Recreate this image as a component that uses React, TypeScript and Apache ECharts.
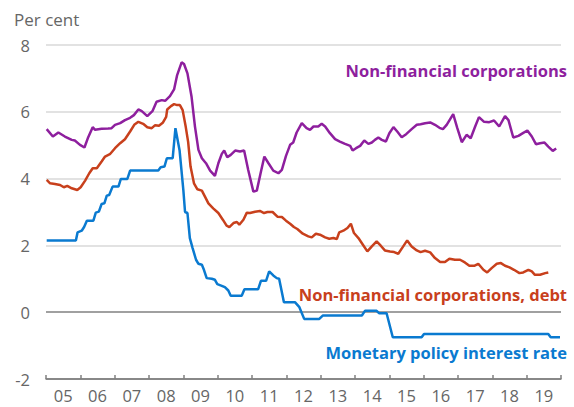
import React, { useEffect, useRef } from "react";
import * as echarts from "echarts";

const yearLabels = ["05", "06", "07", "08", "09", "10", "11", "12", "13", "14", "15", "16", "17", "18", "19"];
const yTicks = [-2, 0, 2, 4, 6, 8];

const corpX = [2005.02, 2005.2, 2005.36, 2005.55, 2005.75, 2005.84, 2005.99, 2006.12, 2006.23, 2006.36, 2006.43, 2006.62, 2006.81, 2006.91, 2007.01, 2007.16, 2007.3, 2007.45, 2007.56, 2007.69, 2007.79, 2007.95, 2008.1, 2008.22, 2008.37, 2008.47, 2008.61, 2008.73, 2008.82, 2008.95, 2009.02, 2009.12, 2009.24, 2009.34, 2009.44, 2009.54, 2009.66, 2009.78, 2009.92, 2010.02, 2010.12, 2010.19, 2010.28, 2010.38, 2010.51, 2010.65, 2010.77, 2010.89, 2011.04, 2011.14, 2011.25, 2011.36, 2011.48, 2011.62, 2011.77, 2011.87, 2011.99, 2012.11, 2012.2, 2012.3, 2012.45, 2012.59, 2012.69, 2012.79, 2012.93, 2013.03, 2013.13, 2013.27, 2013.42, 2013.56, 2013.71, 2013.86, 2013.93, 2014.03, 2014.15, 2014.27, 2014.39, 2014.49, 2014.58, 2014.68, 2014.78, 2014.9, 2015.0, 2015.12, 2015.23, 2015.36, 2015.49, 2015.65, 2015.8, 2015.91, 2016.04, 2016.19, 2016.33, 2016.46, 2016.56, 2016.67, 2016.86, 2016.98, 2017.11, 2017.25, 2017.37, 2017.5, 2017.61, 2017.76, 2017.91, 2018.05, 2018.2, 2018.37, 2018.47, 2018.61, 2018.76, 2018.89, 2019.02, 2019.15, 2019.27, 2019.39, 2019.52, 2019.63, 2019.76, 2019.86];
const corpY = [5.48, 5.26, 5.38, 5.26, 5.16, 5.14, 5.01, 4.93, 5.24, 5.54, 5.46, 5.49, 5.5, 5.51, 5.61, 5.66, 5.75, 5.82, 5.9, 6.07, 6.02, 5.87, 6.02, 6.3, 6.35, 6.33, 6.47, 6.67, 7.1, 7.48, 7.43, 7.15, 6.45, 5.55, 4.86, 4.61, 4.46, 4.24, 4.08, 4.46, 4.74, 4.84, 4.64, 4.71, 4.84, 4.81, 4.84, 4.26, 3.61, 3.64, 4.16, 4.66, 4.46, 4.24, 4.16, 4.26, 4.68, 5.01, 5.08, 5.38, 5.66, 5.51, 5.46, 5.56, 5.56, 5.64, 5.56, 5.36, 5.18, 5.11, 5.04, 4.98, 4.84, 4.91, 4.98, 5.14, 5.04, 5.08, 5.16, 5.23, 5.16, 5.11, 5.36, 5.54, 5.41, 5.24, 5.33, 5.48, 5.61, 5.63, 5.66, 5.68, 5.61, 5.52, 5.48, 5.61, 5.93, 5.51, 5.09, 5.31, 5.21, 5.56, 5.84, 5.7, 5.69, 5.74, 5.56, 5.87, 5.75, 5.23, 5.28, 5.36, 5.44, 5.26, 5.03, 5.06, 5.08, 4.96, 4.83, 4.9];

const debtX = [2005.02, 2005.12, 2005.26, 2005.41, 2005.52, 2005.62, 2005.75, 2005.91, 2006.01, 2006.14, 2006.26, 2006.36, 2006.48, 2006.62, 2006.72, 2006.86, 2007.01, 2007.16, 2007.3, 2007.45, 2007.57, 2007.69, 2007.83, 2007.95, 2008.08, 2008.18, 2008.29, 2008.4, 2008.5, 2008.53, 2008.64, 2008.73, 2008.82, 2008.9, 2008.98, 2009.07, 2009.14, 2009.21, 2009.31, 2009.41, 2009.54, 2009.63, 2009.73, 2009.87, 2010.02, 2010.15, 2010.26, 2010.34, 2010.46, 2010.56, 2010.63, 2010.75, 2010.85, 2010.94, 2011.09, 2011.23, 2011.35, 2011.45, 2011.6, 2011.74, 2011.87, 2011.99, 2012.11, 2012.22, 2012.32, 2012.48, 2012.64, 2012.74, 2012.86, 2012.98, 2013.13, 2013.25, 2013.37, 2013.47, 2013.54, 2013.66, 2013.78, 2013.88, 2013.97, 2014.1, 2014.23, 2014.36, 2014.49, 2014.63, 2014.75, 2014.87, 2015.02, 2015.14, 2015.26, 2015.39, 2015.52, 2015.65, 2015.8, 2015.91, 2016.04, 2016.19, 2016.33, 2016.48, 2016.62, 2016.75, 2016.91, 2017.06, 2017.2, 2017.33, 2017.47, 2017.59, 2017.74, 2017.85, 2017.98, 2018.13, 2018.25, 2018.37, 2018.5, 2018.63, 2018.79, 2018.9, 2019.05, 2019.15, 2019.24, 2019.39, 2019.54, 2019.63];
const debtY = [3.96, 3.86, 3.84, 3.81, 3.74, 3.78, 3.71, 3.66, 3.74, 3.94, 4.16, 4.31, 4.31, 4.51, 4.66, 4.73, 4.91, 5.06, 5.18, 5.41, 5.61, 5.7, 5.64, 5.54, 5.51, 5.6, 5.58, 5.67, 5.85, 6.07, 6.17, 6.23, 6.2, 6.2, 6.05, 5.55, 5.1, 4.36, 3.86, 3.68, 3.64, 3.46, 3.26, 3.11, 2.97, 2.77, 2.59, 2.55, 2.67, 2.7, 2.62, 2.77, 2.98, 2.97, 3.01, 3.03, 2.97, 3.0, 3.0, 2.86, 2.85, 2.74, 2.65, 2.55, 2.49, 2.35, 2.27, 2.24, 2.35, 2.32, 2.24, 2.2, 2.22, 2.19, 2.39, 2.44, 2.52, 2.65, 2.37, 2.22, 2.02, 1.82, 1.97, 2.12, 1.99, 1.85, 1.82, 1.8, 1.75, 1.95, 2.15, 1.97, 1.85, 1.8, 1.84, 1.79, 1.62, 1.5, 1.5, 1.6, 1.57, 1.57, 1.49, 1.39, 1.39, 1.45, 1.27, 1.19, 1.32, 1.45, 1.47, 1.39, 1.34, 1.27, 1.17, 1.19, 1.27, 1.22, 1.12, 1.12, 1.17, 1.19];

const rateX = [2005.02, 2005.87, 2005.92, 2006.04, 2006.11, 2006.19, 2006.38, 2006.45, 2006.54, 2006.62, 2006.7, 2006.77, 2006.84, 2006.94, 2007.11, 2007.18, 2007.37, 2007.45, 2008.27, 2008.34, 2008.45, 2008.52, 2008.69, 2008.77, 2008.89, 2009.0, 2009.05, 2009.12, 2009.19, 2009.27, 2009.37, 2009.44, 2009.54, 2009.6, 2009.68, 2009.83, 2009.92, 2009.99, 2010.12, 2010.21, 2010.31, 2010.38, 2010.7, 2010.78, 2011.18, 2011.26, 2011.41, 2011.5, 2011.62, 2011.72, 2011.79, 2011.93, 2012.25, 2012.38, 2012.52, 2012.96, 2013.06, 2014.2, 2014.29, 2014.63, 2014.7, 2014.92, 2015.1, 2015.94, 2016.01, 2019.63, 2019.7, 2019.97];
const rateY = [2.15, 2.15, 2.39, 2.44, 2.55, 2.74, 2.74, 2.98, 3.01, 3.24, 3.26, 3.49, 3.51, 3.76, 3.76, 3.99, 3.99, 4.24, 4.24, 4.34, 4.36, 4.61, 4.61, 5.51, 4.85, 3.66, 3.0, 2.97, 2.22, 1.92, 1.57, 1.45, 1.42, 1.27, 1.02, 1.0, 0.97, 0.84, 0.79, 0.75, 0.65, 0.49, 0.49, 0.69, 0.69, 0.94, 0.94, 1.22, 1.1, 1.02, 1.0, 0.3, 0.3, 0.15, -0.2, -0.2, -0.1, -0.1, 0.04, 0.04, -0.03, -0.03, -0.75, -0.75, -0.65, -0.65, -0.75, -0.75];

const PURPLE = "#8e1f9e";
const RED = "#c8401c";
const BLUE = "#0a7ad0";
const FONT = "'Open Sans', 'Noto Sans', sans-serif";

const zip = (xs: number[], ys: number[]) => xs.map((x, i) => [x, ys[i]]);

export default function App() {
  const ref = useRef<HTMLDivElement>(null);
  useEffect(() => {
    if (!ref.current) return;
    const chart = echarts.init(ref.current, undefined, { renderer: "svg" });
    const lineSeries = (name: string, data: number[][], color: string) => ({
      name,
      type: "line",
      xAxisIndex: 1,
      data,
      showSymbol: false,
      symbol: "none",
      lineStyle: { color, width: 2.5 },
      z: 3,
    });
    chart.setOption({
      animation: false,
      backgroundColor: "#ffffff",
      grid: { left: 46, right: 13, top: 45, bottom: 28, containLabel: false },
      xAxis: [
        {
          type: "category",
          data: yearLabels,
          boundaryGap: true,
          position: "bottom",
          axisLine: { show: true, onZero: false, lineStyle: { color: "#808080", width: 1.5 } },
          axisTick: { show: true, inside: true, length: 4, lineStyle: { color: "#808080", width: 1.5 } },
          axisLabel: { color: "#666666", fontSize: 16.5, fontFamily: FONT, margin: 8 },
          splitLine: { show: false },
        },
        {
          type: "value",
          min: 2005,
          max: 2020,
          show: false,
        },
      ],
      yAxis: {
        type: "value",
        min: -2,
        max: 8,
        interval: 2,
        axisLine: { show: false },
        axisTick: { show: false },
        axisLabel: {
          color: "#666666",
          fontSize: 16.5,
          fontFamily: FONT,
          margin: 16,
          formatter: (v: number) => (yTicks.includes(v) ? String(v) : ""),
        },
        splitLine: {
          show: true,
          lineStyle: { color: ["#808080", "#808080", "#d9d9d9", "#d9d9d9", "#d9d9d9", "#d9d9d9"], width: 1.5 },
        },
      },
      series: [
        lineSeries("Non-financial corporations", zip(corpX, corpY), PURPLE),
        lineSeries("Non-financial corporations, debt", zip(debtX, debtY), RED),
        lineSeries("Monetary policy interest rate", zip(rateX, rateY), BLUE),
      ],
      graphic: [
        {
          type: "text",
          left: 14,
          top: 11,
          style: { text: "Per cent", fill: "#666666", font: `17px ${FONT}` },
        },
        {
          type: "text",
          right: 7,
          top: 62,
          style: { text: "Non-financial corporations", fill: PURPLE, font: `bold 16.5px ${FONT}` },
        },
        {
          type: "text",
          right: 7,
          top: 286,
          style: { text: "Non-financial corporations, debt", fill: RED, font: `bold 16.5px ${FONT}` },
        },
        {
          type: "text",
          right: 7,
          top: 344,
          style: { text: "Monetary policy interest rate", fill: BLUE, font: `bold 16.5px ${FONT}` },
        },
      ],
    });
    return () => chart.dispose();
  }, []);
  return <div ref={ref} style={{ width: 574, height: 407, position: "absolute", left: 0, top: 0 }} />;
}
